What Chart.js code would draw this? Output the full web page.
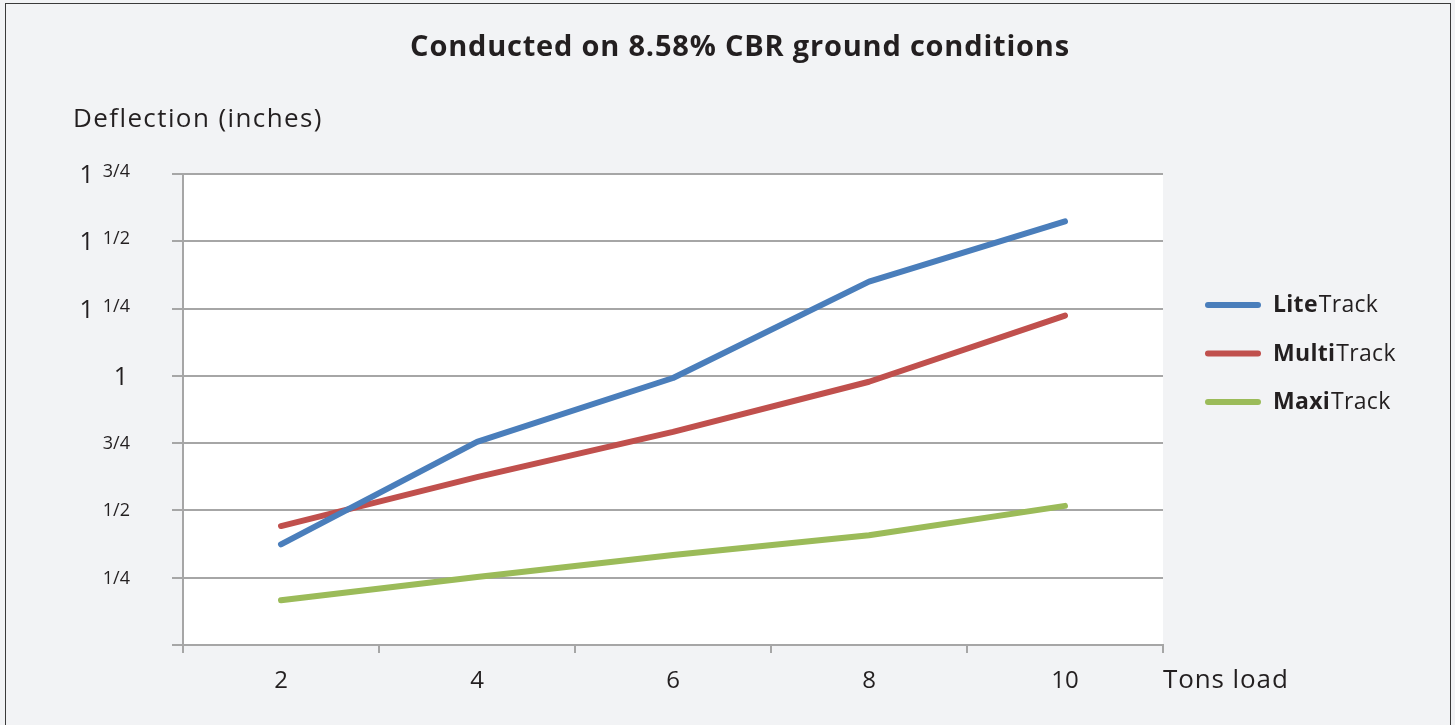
<script src="https://cdn.jsdelivr.net/npm/chart.js@4.4.1/dist/chart.umd.min.js"></script>

<style>
  body {
    margin: 0;
    background: #f2f3f5;
  }
  canvas { display: block; }
</style>
<canvas id="canvas" width="1455" height="725"></canvas>
<script>
const tons = ['2', '4', '6', '8', '10'];
const liteTrack = [0.374, 0.755, 0.992, 1.35, 1.574];
const multiTrack = [0.442, 0.624, 0.792, 0.978, 1.224];
const maxiTrack = [0.166, 0.253, 0.334, 0.408, 0.517];
const yTickLabels = ['', '1/4', '1/2', '3/4', '1', '1 1/4', '1 1/2', '1 3/4'];

const FONT = "'Open Sans', sans-serif";
const TXT = '#231f20';

let seriesNames = [['Lite', 'Track'], ['Multi', 'Track'], ['Maxi', 'Track']];
let colors = ['#4a7ebb', '#c0504d', '#9bbb59'];

let decor = {
  id: 'decor',
  beforeDraw(chart) {
    let c = chart.ctx, a = chart.chartArea;
    c.save();
    c.fillStyle = '#f2f3f5';
    c.fillRect(0, 0, chart.width, chart.height);
    c.fillStyle = '#ffffff';
    c.fillRect(a.left, a.top, a.right - a.left, a.bottom - a.top);
    c.strokeStyle = '#3a3a3a';
    c.lineWidth = 1;
    c.strokeRect(5.5, 3.5, 1445, 740);
    c.restore();
  },
  afterDraw(chart) {
    let c = chart.ctx, a = chart.chartArea;
    let ys = chart.scales.y, xs = chart.scales.x;
    c.save();
    c.fillStyle = TXT;

    // title
    c.font = 'bold 29px ' + FONT;
    c.letterSpacing = '0.8px';
    c.textAlign = 'center';
    c.textBaseline = 'alphabetic';
    c.fillText('Conducted on 8.58% CBR ground conditions', 740, 56);

    // axis titles
    c.font = '26px ' + FONT;
    c.letterSpacing = '1.4px';
    c.textAlign = 'left';
    c.fillText('Deflection (inches)', 73, 127);
    c.letterSpacing = '0.9px';
    c.fillText('Tons load', 1163, 688);
    c.letterSpacing = '0px';

    // y tick labels: whole number big, fraction small
    yTickLabels.forEach((lab, i) => {
      if (!lab) return;
      let y = ys.getPixelForValue(i * 0.25);
      let parts = lab.split(' ');
      c.textAlign = 'right';
      if (parts.length === 2) {
        c.font = '18px ' + FONT;
        let w = c.measureText(parts[1]).width;
        c.fillText(parts[1], 130, y + 3);
        c.font = '25px ' + FONT;
        c.fillText(parts[0], 130 - w - 9, y + 9);
      } else if (lab.indexOf('/') > 0) {
        c.font = '18px ' + FONT;
        c.fillText(lab, 130, y + 6);
      } else {
        c.font = '25px ' + FONT;
        c.fillText(lab, 128, y + 9);
      }
    });

    // x tick labels
    c.font = '24px ' + FONT;
    c.textAlign = 'center';
    tons.forEach((t, i) => {
      c.fillText(t, xs.getPixelForValue(i), 688);
    });

    // legend
    chart.data.datasets.forEach((ds, i) => {
      let ly = 305 + i * 48.5;
      c.strokeStyle = ds.borderColor;
      c.lineWidth = 6;
      c.lineCap = 'round';
      c.beginPath();
      c.moveTo(1208, ly);
      c.lineTo(1258, ly);
      c.stroke();
      c.textAlign = 'left';
      c.letterSpacing = '0.3px';
      c.font = 'bold 23px ' + FONT;
      c.fillText(seriesNames[i][0], 1273, ly + 7);
      let w = c.measureText(seriesNames[i][0]).width;
      c.font = '23px ' + FONT;
      c.fillText(seriesNames[i][1], 1273 + w + 1, ly + 7);
    });
    c.restore();
  }
};

let mk = (data, i) => ({
  label: seriesNames[i].join(''),
  data: data,
  borderColor: colors[i],
  backgroundColor: colors[i],
  borderWidth: 6,
  borderCapStyle: 'round',
  borderJoinStyle: 'round',
  pointRadius: 0,
  tension: 0
});

new Chart(document.getElementById('canvas').getContext('2d'), {
  type: 'line',
  data: {
    labels: tons,
    datasets: [mk(liteTrack, 0), mk(multiTrack, 1), mk(maxiTrack, 2)]
  },
  options: {
    responsive: false,
    animation: false,
    devicePixelRatio: 1,
    layout: { padding: { top: 174, right: 292, left: 0, bottom: 0 } },
    plugins: {
      legend: { display: false },
      title: { display: false },
      tooltip: { enabled: false }
    },
    scales: {
      x: {
        offset: true,
        afterFit: (s) => { s.height = 80; },
        ticks: { display: false },
        grid: {
          offset: true,
          drawOnChartArea: false,
          drawTicks: true,
          tickLength: 8,
          color: '#a6a6a6',
          lineWidth: 2
        },
        border: { color: '#a6a6a6', width: 2 }
      },
      y: {
        min: 0,
        max: 1.75,
        afterFit: (s) => { s.width = 183; },
        ticks: { display: false, stepSize: 0.25 },
        grid: {
          color: '#a6a6a6',
          lineWidth: 2,
          tickLength: 11
        },
        border: { color: '#a6a6a6', width: 2 }
      }
    }
  },
  plugins: [decor]
});
</script>
